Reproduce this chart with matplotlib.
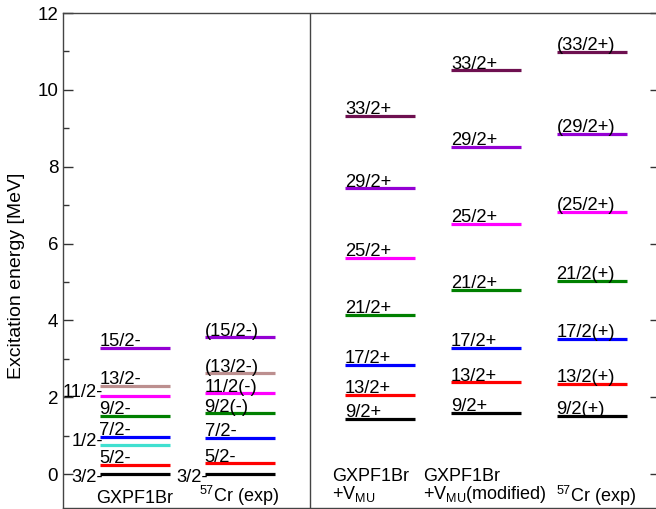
import matplotlib
matplotlib.use("Agg")
import matplotlib.pyplot as plt

plt.rcParams['font.family'] = ['Liberation Sans', 'DejaVu Sans']
plt.rcParams['mathtext.fontset'] = 'custom'
plt.rcParams['mathtext.rm'] = 'Liberation Sans'
plt.rcParams['mathtext.it'] = 'Liberation Sans:italic'

# ---- data ----
neg_labels = ["3/2-", "5/2-", "1/2-", "7/2-", "9/2-", "11/2-", "13/2-", "15/2-"]
neg_colors = ["#000000", "#ff0000", "#40e0d0", "#0000ff", "#008000", "#ff00ff", "#bc8f8f", "#9400d3"]
gxpf1br_E = [0.00, 0.23, 0.76, 0.97, 1.51, 2.03, 2.30, 3.29]

exp_neg_labels = ["3/2-", "5/2-", "7/2-", "9/2(-)", "11/2(-)", "(13/2-)", "(15/2-)"]
exp_neg_colors = ["#000000", "#ff0000", "#0000ff", "#008000", "#ff00ff", "#bc8f8f", "#9400d3"]
exp_neg_E = [0.00, 0.28, 0.95, 1.58, 2.10, 2.62, 3.56]

pos_labels = ["9/2+", "13/2+", "17/2+", "21/2+", "25/2+", "29/2+", "33/2+"]
exp_pos_labels = ["9/2(+)", "13/2(+)", "17/2(+)", "21/2(+)", "(25/2+)", "(29/2+)", "(33/2+)"]
pos_colors = ["#000000", "#ff0000", "#0000ff", "#008000", "#ff00ff", "#9400d3", "#6e1050"]
vmu_E = [1.43, 2.06, 2.84, 4.14, 5.62, 7.44, 9.33]
vmu_mod_E = [1.60, 2.39, 3.29, 4.79, 6.51, 8.51, 10.51]
exp_pos_E = [1.52, 2.35, 3.52, 5.03, 6.83, 8.85, 10.99]

# labels drawn to the left of the level line
left_side = {"3/2-", "1/2-", "11/2-"}

# ---- layout ----
W, H = 656, 509
fig = plt.figure(figsize=(W / 100, H / 100), dpi=100)
ax = fig.add_axes([63 / W, 1 - 508 / H, (660 - 63) / W, (508 - 13) / H])

unit = 105.5
def px(x):
    return (x - 134.5) / unit

ax.set_xlim(px(63), px(660))
ax.set_ylim(-0.885, 12)

half = 35 / unit
centers = [px(134.5), px(239.5), px(380), px(486), px(591.5)]
FS = 13.2
LW = 2.3

def draw_column(xc, energies, labels, colors):
    for e, lab, c in zip(energies, labels, colors):
        ax.plot([xc - half, xc + half], [e, e], color=c, lw=LW, solid_capstyle='butt')
        if lab in left_side:
            dy = -6 if lab == "3/2-" else -1
            ax.annotate(lab, (xc - half, e), xytext=(2.5, dy), textcoords='offset points',
                        ha='right', va='baseline', fontsize=FS)
        else:
            ax.annotate(lab, (xc - half, e), xytext=(0, 1.2), textcoords='offset points',
                        ha='left', va='baseline', fontsize=FS)

draw_column(centers[0], gxpf1br_E, neg_labels, neg_colors)
draw_column(centers[1], exp_neg_E, exp_neg_labels, exp_neg_colors)
draw_column(centers[2], vmu_E, pos_labels, pos_colors)
draw_column(centers[3], vmu_mod_E, pos_labels, pos_colors)
draw_column(centers[4], exp_pos_E, exp_pos_labels, pos_colors)

# divider
ax.axvline(px(310), color='#444444', lw=1.0)

# column titles
def yp(p):
    return (474 - p) / 38.4

TFS = 13.0
ax.text(centers[0], yp(503), "GXPF1Br", ha='center', va='baseline', fontsize=TFS)
ax.text(centers[1], yp(502), r"$^{57}$Cr (exp)", ha='center', va='baseline', fontsize=TFS)
ax.text(px(332), yp(481), "GXPF1Br", ha='left', va='baseline', fontsize=TFS)
ax.text(px(332), yp(499), r"+V$_{\rm MU}$", ha='left', va='baseline', fontsize=TFS)
ax.text(px(423), yp(481), "GXPF1Br", ha='left', va='baseline', fontsize=TFS)
ax.text(px(423), yp(499), r"+V$_{\rm MU}$(modified)", ha='left', va='baseline', fontsize=TFS)
ax.text(px(556), yp(502), r"$^{57}$Cr (exp)", ha='left', va='baseline', fontsize=TFS)

# axes styling
ax.set_xticks([])
ax.set_yticks([0, 2, 4, 6, 8, 10, 12])
ax.set_yticks([1, 3, 5, 7, 9, 11], minor=True)
ax.tick_params(axis='y', which='major', direction='in', length=7, width=1,
               labelsize=13.5, right=True, color='#333333')
ax.tick_params(axis='y', which='minor', direction='in', length=4.5, width=1,
               right=False, color='#333333')
for s in ax.spines.values():
    s.set_color('#444444')
    s.set_linewidth(1.0)
ax.set_ylabel("Excitation energy [MeV]", fontsize=14)
ax.yaxis.set_label_coords((25 - 63) / (660 - 63), (508 - 276) / (508 - 13))

fig.savefig("out.png", dpi=100)
